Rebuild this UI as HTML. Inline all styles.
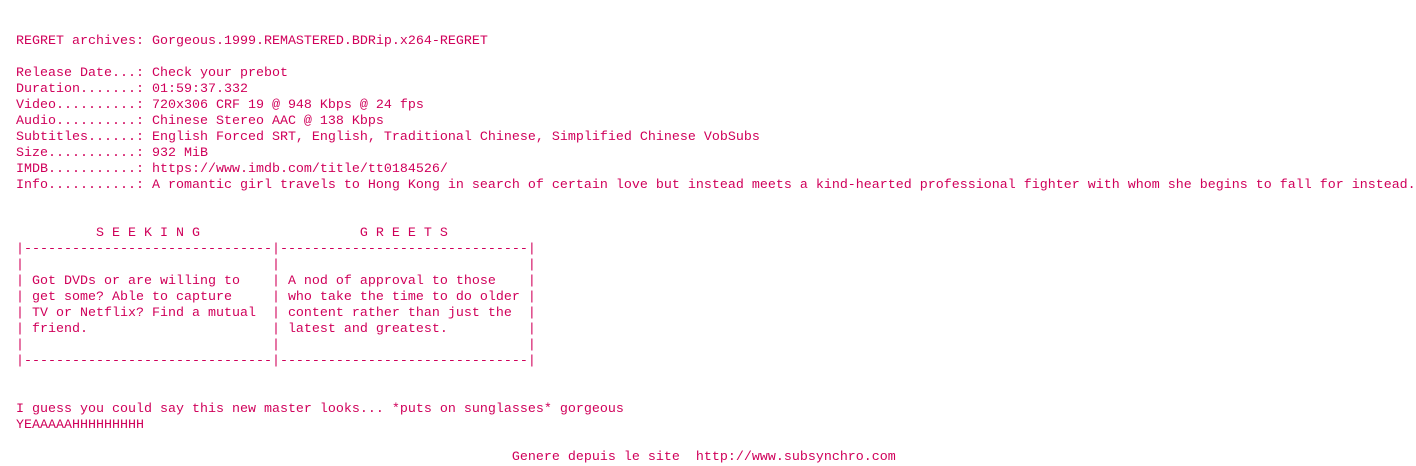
<!DOCTYPE html>
<html><head><meta charset="utf-8"><style>
html,body{margin:0;padding:0;background:#fff;width:1416px;height:464px;overflow:hidden}
pre{margin:0;position:absolute;left:16px;top:34px;font-family:"Liberation Mono",monospace;font-size:13.33px;line-height:16px;color:#d0005a;white-space:pre}
</style></head><body>
<pre>REGRET archives: Gorgeous.1999.REMASTERED.BDRip.x264-REGRET

Release Date...: Check your prebot
Duration.......: 01:59:37.332
Video..........: 720x306 CRF 19 @ 948 Kbps @ 24 fps
Audio..........: Chinese Stereo AAC @ 138 Kbps
Subtitles......: English Forced SRT, English, Traditional Chinese, Simplified Chinese VobSubs
Size...........: 932 MiB
IMDB...........: https://www.imdb.com/title/tt0184526/
Info...........: A romantic girl travels to Hong Kong in search of certain love but instead meets a kind-hearted professional fighter with whom she begins to fall for instead.


          S E E K I N G                    G R E E T S
|-------------------------------|-------------------------------|
|                               |                               |
| Got DVDs or are willing to    | A nod of approval to those    |
| get some? Able to capture     | who take the time to do older |
| TV or Netflix? Find a mutual  | content rather than just the  |
| friend.                       | latest and greatest.          |
|                               |                               |
|-------------------------------|-------------------------------|


I guess you could say this new master looks... *puts on sunglasses* gorgeous
YEAAAAAHHHHHHHHH

                                                              Genere depuis le site  http://www.subsynchro.com</pre>
</body></html>
